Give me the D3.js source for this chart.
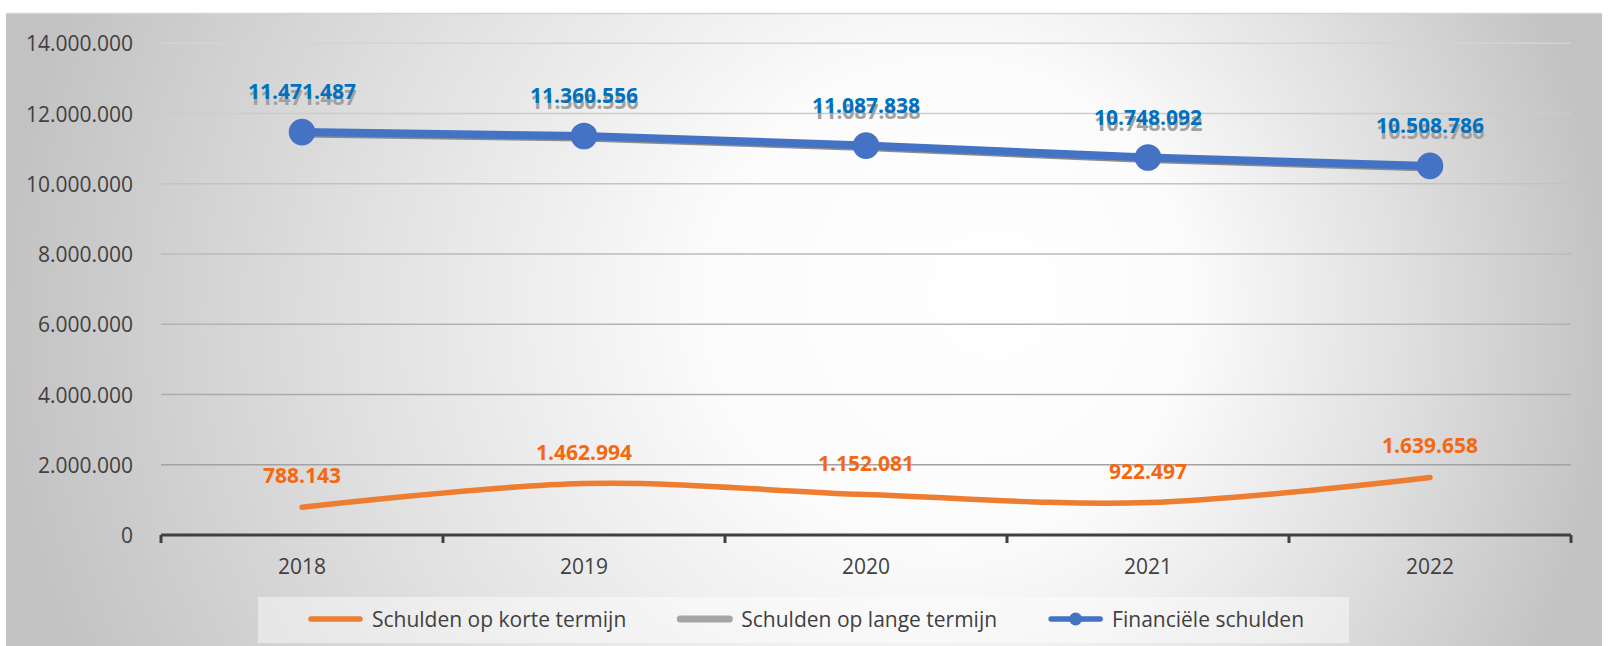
<!DOCTYPE html>
<html>
<head>
<meta charset="utf-8">
<script src="https://cdn.jsdelivr.net/npm/d3@7"></script>
<style>
  html, body { margin: 0; padding: 0; background: #ffffff; }
  svg { display: block; }
  text { font-family: "Open Sans", "Noto Sans", sans-serif; }
</style>
</head>
<body>
<svg id="chart" width="1611" height="646"></svg>
<script>
const years = ["2018", "2019", "2020", "2021", "2022"];
const korteTermijn = [788143, 1462994, 1152081, 922497, 1639658];
const langeTermijn = [11471487, 11360556, 11087838, 10748092, 10508786];
const financieleSchulden = [11471487, 11360556, 11087838, 10748092, 10508786];
const yTicks = [0, 2000000, 4000000, 6000000, 8000000, 10000000, 12000000, 14000000];
const seriesNames = ["Schulden op korte termijn", "Schulden op lange termijn", "Financiële schulden"];

const W = 1611, H = 646;
const plot = { left: 161, right: 1571, top: 43.3, bottom: 535 };

const svg = d3.select("#chart");
const locale = d3.formatLocale({ decimal: ",", thousands: ".", grouping: [3], currency: ["€", ""] });
const fmt = locale.format(",d");

// background gradient
const defs = svg.append("defs");
const grad = defs.append("radialGradient").attr("id", "bg")
  .attr("gradientUnits", "userSpaceOnUse")
  .attr("cx", 804).attr("cy", 330).attr("r", 810)
  .attr("fx", 1010).attr("fy", 290);
grad.append("stop").attr("offset", "0%").attr("stop-color", "#ffffff");
grad.append("stop").attr("offset", "30%").attr("stop-color", "#fbfbfb");
grad.append("stop").attr("offset", "65%").attr("stop-color", "#e0e0e0");
grad.append("stop").attr("offset", "100%").attr("stop-color", "#c2c2c2");

svg.append("rect").attr("x", 6).attr("y", 13).attr("width", 1596).attr("height", 633)
  .attr("fill", "url(#bg)");
svg.append("line").attr("x1", 6).attr("x2", 1602).attr("y1", 13.5).attr("y2", 13.5)
  .attr("stroke", "#d4d4d4").attr("stroke-width", 1.5);

const x = d3.scaleBand().domain(years).range([plot.left, plot.right]).padding(0);
const y = d3.scaleLinear().domain([0, 14000000]).range([plot.bottom, plot.top]);
const cx = d => x(d) + x.bandwidth() / 2;

// gridlines
const gridColor = d3.scaleLinear().domain([14000000, 0]).range(["#d4d4d4", "#9a9a9a"]);
svg.append("g").selectAll("line").data(yTicks.filter(t => t > 0)).join("line")
  .attr("x1", plot.left).attr("x2", plot.right)
  .attr("y1", d => y(d)).attr("y2", d => y(d))
  .attr("stroke", d => gridColor(d)).attr("stroke-width", 1.6);

// y tick labels
svg.append("g").selectAll("text").data(yTicks).join("text")
  .attr("x", 133).attr("y", d => y(d))
  .attr("text-anchor", "end").attr("dominant-baseline", "central")
  .attr("font-size", 21).attr("fill", "#404040")
  .text(d => fmt(d));

// x axis
const axisG = svg.append("g");
axisG.append("line").attr("x1", plot.left).attr("x2", plot.right)
  .attr("y1", y(0)).attr("y2", y(0)).attr("stroke", "#404040").attr("stroke-width", 3.2);
const edges = years.map(d => x(d)).concat([x(years[years.length - 1]) + x.bandwidth()]);
axisG.selectAll("line.tick").data(edges).join("line").attr("class", "tick")
  .attr("x1", d => d).attr("x2", d => d)
  .attr("y1", y(0)).attr("y2", y(0) + 8)
  .attr("stroke", "#404040").attr("stroke-width", 3);
axisG.selectAll("text").data(years).join("text")
  .attr("x", d => cx(d)).attr("y", 574)
  .attr("text-anchor", "middle").attr("font-size", 21).attr("fill", "#404040")
  .text(d => d);

// lines
const straight = d3.line().x((d, i) => cx(years[i])).y(d => y(d));
const smooth = d3.line().x((d, i) => cx(years[i])).y(d => y(d)).curve(d3.curveCardinal.tension(0));

svg.append("path").datum(langeTermijn).attr("d", straight)
  .attr("fill", "none").attr("stroke", "#8c8c8c").attr("stroke-width", 8)
  .attr("transform", "translate(0,1.5)");
svg.append("path").datum(financieleSchulden).attr("d", straight)
  .attr("fill", "none").attr("stroke", "#4472C4").attr("stroke-width", 8);
svg.append("g").selectAll("circle").data(financieleSchulden).join("circle")
  .attr("cx", (d, i) => cx(years[i])).attr("cy", d => y(d)).attr("r", 13.3)
  .attr("fill", "#4472C4");

svg.append("path").datum(korteTermijn).attr("d", smooth)
  .attr("fill", "none").attr("stroke", "#ED7D31").attr("stroke-width", 5.5)
  .attr("stroke-linecap", "round");

// data labels
svg.append("g").selectAll("text").data(langeTermijn).join("text")
  .attr("x", (d, i) => cx(years[i]) + 0.5).attr("y", d => y(d) - 27)
  .attr("text-anchor", "middle").attr("font-size", 21).attr("font-weight", "bold")
  .attr("fill", "#a0a0a0").text(d => fmt(d));
svg.append("g").selectAll("text").data(financieleSchulden).join("text")
  .attr("x", (d, i) => cx(years[i])).attr("y", d => y(d) - 33)
  .attr("text-anchor", "middle").attr("font-size", 21).attr("font-weight", "bold")
  .attr("fill", "#0070C0").text(d => fmt(d));
svg.append("g").selectAll("text").data(korteTermijn).join("text")
  .attr("x", (d, i) => cx(years[i])).attr("y", d => y(d) - 24)
  .attr("text-anchor", "middle").attr("font-size", 21).attr("font-weight", "bold")
  .attr("fill", "#F4680F").text(d => fmt(d));

// legend
svg.append("rect").attr("x", 258).attr("y", 597).attr("width", 1091).attr("height", 46)
  .attr("fill", "#ffffff").attr("fill-opacity", 0.45);
const legColors = ["#ED7D31", "#A5A5A5", "#4472C4"];
const legG = svg.append("g");
const items = legG.selectAll("g").data(seriesNames).join("g");
items.append("text").attr("font-size", 21).attr("fill", "#404040")
  .attr("dominant-baseline", "central").text(d => d);
let cursor = 0;
const swW = 55, gapSw = 9, gapItem = 51;
items.each(function (d, i) {
  const g = d3.select(this);
  const tw = g.select("text").node().getComputedTextLength();
  g.select("text").attr("x", cursor + swW + gapSw);
  g.insert("line", "text").attr("x1", cursor + 3).attr("x2", cursor + swW - 3)
    .attr("y1", 0).attr("y2", 0).attr("stroke", legColors[i])
    .attr("stroke-width", i === 1 ? 7 : 5.5).attr("stroke-linecap", "round");
  if (i === 2) {
    g.append("circle").attr("cx", cursor + swW / 2).attr("cy", 0).attr("r", 6.5).attr("fill", legColors[i]);
  }
  cursor += swW + gapSw + tw + gapItem;
});
const totalW = cursor - gapItem;
legG.attr("transform", `translate(${806 - totalW / 2},619)`);
</script>
</body>
</html>
